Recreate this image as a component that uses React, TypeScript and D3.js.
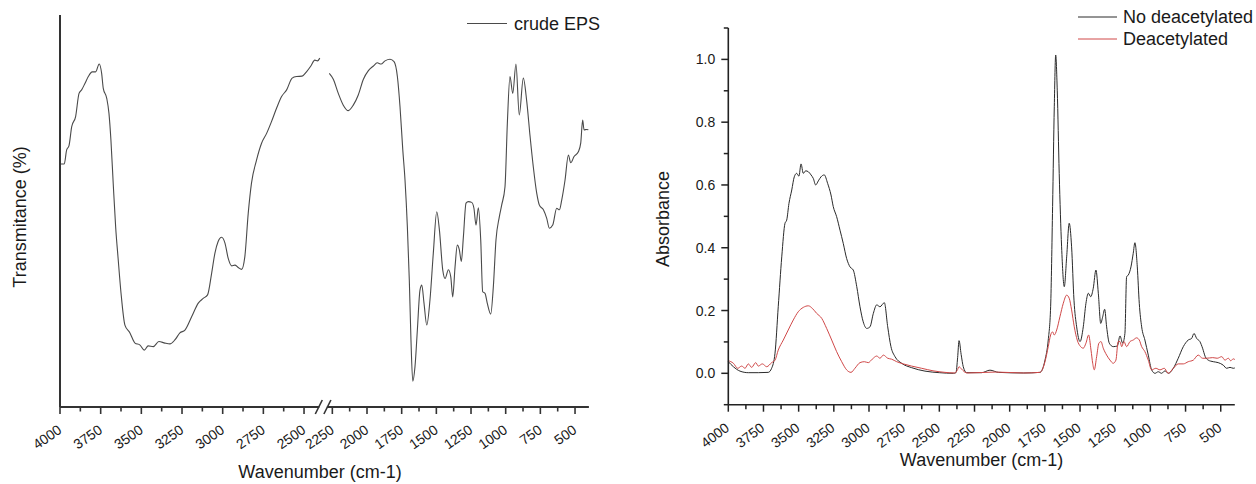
import React from 'react';
import * as d3 from 'd3';

const FONT = "'Liberation Sans', Arial, Helvetica, sans-serif";

// crude EPS transmittance, 4000–2400 cm-1 segment
const crudeHighWn = [3998, 3974, 3959, 3945, 3928, 3904, 3883, 3867, 3846, 3826, 3802, 3781, 3759, 3744, 3734, 3713, 3699, 3687, 3673, 3658, 3642, 3625, 3601, 3570, 3539, 3508, 3482, 3458, 3427, 3392, 3355, 3324, 3294, 3263, 3232, 3191, 3150, 3120, 3093, 3068, 3048, 3028, 3007, 2986, 2966, 2945, 2925, 2905, 2884, 2864, 2843, 2823, 2792, 2761, 2730, 2700, 2669, 2638, 2607, 2573, 2546, 2512, 2485, 2458, 2434, 2417, 2403];
const crudeHighT = [62.0, 62.0, 65.6, 66.6, 71.5, 74.1, 80.0, 80.9, 82.6, 84.3, 85.5, 85.5, 87.5, 85.1, 81.3, 78.8, 74.9, 68.1, 57.1, 46.0, 37.5, 29.1, 20.9, 18.9, 16.3, 15.8, 14.5, 15.6, 15.4, 16.7, 16.3, 16.1, 17.1, 18.9, 19.6, 23.0, 26.5, 27.7, 28.6, 34.1, 39.2, 42.2, 43.3, 41.8, 37.9, 36.0, 36.2, 35.6, 35.1, 38.3, 49.4, 57.1, 63.0, 67.3, 69.8, 72.8, 76.2, 79.2, 80.9, 83.9, 84.3, 84.4, 85.5, 87.0, 88.5, 88.3, 89.0];

// crude EPS transmittance, 2300–400 cm-1 segment
const crudeLowWn = [2272, 2243, 2207, 2171, 2135, 2099, 2063, 2026, 1990, 1954, 1926, 1899, 1870, 1834, 1805, 1781, 1762, 1742, 1726, 1709, 1695, 1683, 1670, 1654, 1637, 1618, 1605, 1589, 1569, 1546, 1522, 1497, 1478, 1454, 1437, 1413, 1396, 1382, 1365, 1349, 1334, 1320, 1305, 1286, 1269, 1245, 1229, 1214, 1197, 1180, 1166, 1149, 1133, 1108, 1089, 1070, 1046, 1029, 1005, 988, 969, 949, 926, 902, 873, 848, 824, 801, 776, 757, 728, 704, 685, 661, 632, 613, 596, 572, 548, 531, 507, 476, 459, 445, 435, 416, 404];
const crudeLowT = [85.1, 83.6, 80.0, 77.0, 75.6, 77.0, 79.6, 83.6, 85.8, 87.0, 87.8, 87.5, 88.3, 88.7, 88.1, 84.3, 76.6, 65.6, 57.9, 46.0, 32.4, 17.1, 6.6, 10.3, 19.6, 29.8, 31.1, 26.5, 20.9, 27.3, 39.2, 49.8, 45.2, 35.0, 32.8, 35.0, 33.2, 28.1, 35.8, 41.3, 40.1, 37.1, 43.4, 52.0, 52.4, 52.2, 50.7, 46.4, 50.8, 42.6, 29.4, 29.0, 26.5, 23.7, 30.7, 42.6, 48.5, 51.5, 56.2, 72.4, 84.3, 80.0, 87.5, 74.5, 83.9, 77.9, 69.0, 61.3, 54.5, 51.5, 50.3, 48.1, 45.6, 46.4, 50.7, 50.3, 52.8, 57.9, 64.3, 62.3, 63.9, 65.1, 67.3, 73.2, 70.7, 70.8, 70.7];

// absorbance, not deacetylated
const nativeWn = [4000, 3964, 3917, 3858, 3787, 3716, 3692, 3668, 3645, 3620, 3597, 3585, 3569, 3549, 3531, 3514, 3498, 3483, 3467, 3450, 3431, 3412, 3396, 3379, 3360, 3341, 3318, 3294, 3270, 3254, 3230, 3206, 3183, 3159, 3135, 3112, 3087, 3064, 3041, 3016, 2993, 2969, 2945, 2922, 2891, 2867, 2844, 2815, 2768, 2697, 2602, 2500, 2400, 2382, 2370, 2360, 2345, 2330, 2306, 2200, 2140, 2080, 1900, 1785, 1749, 1726, 1709, 1695, 1683, 1673, 1662, 1648, 1631, 1612, 1595, 1577, 1560, 1543, 1524, 1500, 1477, 1458, 1441, 1424, 1406, 1387, 1370, 1353, 1339, 1325, 1311, 1292, 1264, 1235, 1216, 1197, 1181, 1169, 1157, 1138, 1122, 1110, 1093, 1079, 1062, 1039, 1015, 991, 967, 944, 920, 896, 873, 837, 802, 766, 731, 707, 690, 671, 648, 629, 610, 589, 553, 518, 482, 458, 434, 411, 400];
const nativeAbs = [0.037, 0.021, 0.007, 0.002, 0.002, 0.003, 0.016, 0.064, 0.212, 0.371, 0.478, 0.488, 0.541, 0.584, 0.626, 0.637, 0.628, 0.667, 0.637, 0.645, 0.642, 0.632, 0.621, 0.600, 0.613, 0.626, 0.632, 0.605, 0.568, 0.531, 0.499, 0.456, 0.414, 0.366, 0.339, 0.329, 0.276, 0.212, 0.164, 0.143, 0.148, 0.191, 0.218, 0.212, 0.225, 0.148, 0.085, 0.053, 0.032, 0.018, 0.007, 0.002, 0.000, 0.002, 0.050, 0.104, 0.060, 0.021, 0.002, 0.002, 0.010, 0.003, 0.001, 0.003, 0.042, 0.106, 0.212, 0.531, 0.849, 1.014, 0.902, 0.637, 0.403, 0.276, 0.371, 0.478, 0.403, 0.233, 0.148, 0.101, 0.148, 0.223, 0.255, 0.244, 0.271, 0.329, 0.255, 0.159, 0.180, 0.204, 0.148, 0.096, 0.085, 0.087, 0.119, 0.096, 0.127, 0.308, 0.313, 0.339, 0.382, 0.416, 0.339, 0.223, 0.148, 0.106, 0.058, 0.011, 0.000, 0.005, 0.000, 0.008, 0.000, 0.016, 0.048, 0.085, 0.106, 0.111, 0.127, 0.111, 0.101, 0.080, 0.053, 0.042, 0.037, 0.034, 0.026, 0.016, 0.019, 0.016, 0.017];

// absorbance, deacetylated
const deacWn = [4000, 3964, 3933, 3905, 3881, 3858, 3834, 3805, 3787, 3758, 3727, 3692, 3668, 3645, 3609, 3574, 3538, 3503, 3467, 3431, 3403, 3372, 3336, 3301, 3265, 3230, 3194, 3159, 3128, 3100, 3064, 3033, 3005, 2977, 2945, 2922, 2898, 2867, 2839, 2803, 2756, 2697, 2626, 2545, 2460, 2390, 2370, 2360, 2345, 2320, 2300, 2100, 1900, 1785, 1749, 1726, 1709, 1695, 1683, 1666, 1643, 1619, 1595, 1577, 1560, 1541, 1520, 1496, 1477, 1458, 1439, 1422, 1410, 1399, 1382, 1366, 1351, 1335, 1311, 1287, 1264, 1245, 1229, 1216, 1204, 1188, 1169, 1145, 1122, 1098, 1079, 1062, 1039, 1015, 991, 961, 932, 901, 873, 837, 802, 766, 731, 695, 660, 629, 601, 557, 525, 493, 470, 446, 429, 411, 400];
const deacAbs = [0.040, 0.032, 0.016, 0.023, 0.016, 0.030, 0.019, 0.034, 0.023, 0.030, 0.021, 0.034, 0.042, 0.074, 0.106, 0.138, 0.170, 0.196, 0.210, 0.215, 0.207, 0.191, 0.175, 0.143, 0.106, 0.069, 0.037, 0.011, 0.003, 0.016, 0.034, 0.037, 0.034, 0.045, 0.055, 0.048, 0.058, 0.048, 0.045, 0.037, 0.030, 0.023, 0.016, 0.008, 0.003, 0.001, 0.012, 0.021, 0.015, 0.004, 0.001, 0.004, 0.001, 0.003, 0.037, 0.085, 0.122, 0.132, 0.122, 0.138, 0.180, 0.223, 0.249, 0.239, 0.202, 0.148, 0.106, 0.085, 0.080, 0.096, 0.122, 0.074, 0.032, 0.011, 0.053, 0.096, 0.101, 0.080, 0.058, 0.042, 0.032, 0.042, 0.101, 0.101, 0.085, 0.101, 0.085, 0.101, 0.106, 0.113, 0.106, 0.085, 0.069, 0.042, 0.011, 0.016, 0.011, 0.016, 0.000, 0.016, 0.030, 0.030, 0.037, 0.042, 0.058, 0.048, 0.048, 0.050, 0.048, 0.053, 0.042, 0.048, 0.040, 0.046, 0.044];

// axis ticks
const leftTicksHigh = [4000, 3750, 3500, 3250, 3000, 2750, 2500];
const leftTicksLow = [2250, 2000, 1750, 1500, 1250, 1000, 750, 500];
const rightTicksX = [4000, 3750, 3500, 3250, 3000, 2750, 2500, 2250, 2000, 1750, 1500, 1250, 1000, 750, 500];
const rightTicksY = [0, 0.2, 0.4, 0.6, 0.8, 1.0];

const zip = (xs: number[], ys: number[]) => xs.map((x, i) => [x, ys[i]] as [number, number]);

const TEXT = '#1a1a1a';

function TransmittanceChart() {
  const xHigh = d3.scaleLinear().domain([4000, 2400]).range([60, 320.3]);
  const xLow = d3.scaleLinear().domain([2300, 400]).range([325.4, 588.9]);
  const y = d3.scaleLinear().domain([0, 100]).range([407, 15]);
  const axisY = y(0);
  const x0 = xHigh(4000);

  const lineHigh = d3.line<[number, number]>().x(d => xHigh(d[0])).y(d => y(d[1])).curve(d3.curveMonotoneX);
  const lineLow = d3.line<[number, number]>().x(d => xLow(d[0])).y(d => y(d[1])).curve(d3.curveMonotoneX);

  const minorHigh = leftTicksHigh.map(t => t - 125).filter(t => t > 2400);
  const minorLow = leftTicksLow.map(t => t - 125).filter(t => t > 400);

  const breakA = xHigh(2400) - 1;
  const breakB = xLow(2300) + 1.5;

  const tickLabel = (px: number, t: number, key: string) => (
    <text key={key} transform={`translate(${px + 2.7},${axisY + 25}) rotate(-35)`} textAnchor="end" fontSize={14} fill={TEXT}>{t}</text>
  );

  return (
    <g>
      <path d={lineHigh(zip(crudeHighWn, crudeHighT)) || ''} fill="none" stroke="#4a4a4a" strokeWidth={1.1} />
      <path d={lineLow(zip(crudeLowWn, crudeLowT)) || ''} fill="none" stroke="#4a4a4a" strokeWidth={1.1} />

      {/* axes with a break between the two wavenumber segments */}
      <line x1={x0} x2={x0} y1={15} y2={axisY} stroke="#333" strokeWidth={2} />
      <line x1={x0} x2={breakA} y1={axisY} y2={axisY} stroke="#333" strokeWidth={2} />
      <line x1={breakB} x2={xLow(400)} y1={axisY} y2={axisY} stroke="#333" strokeWidth={2} />
      <line x1={breakA - 4} y1={axisY + 7} x2={breakA + 3} y2={axisY - 7} stroke="#333" strokeWidth={1.6} />
      <line x1={breakB - 3} y1={axisY + 7} x2={breakB + 4} y2={axisY - 7} stroke="#333" strokeWidth={1.6} />

      {leftTicksHigh.map(t => (
        <line key={'mh' + t} x1={xHigh(t)} x2={xHigh(t)} y1={axisY} y2={axisY + 7} stroke="#333" strokeWidth={1.6} />
      ))}
      {minorHigh.map(t => (
        <line key={'nh' + t} x1={xHigh(t)} x2={xHigh(t)} y1={axisY} y2={axisY + 4.5} stroke="#333" strokeWidth={1.6} />
      ))}
      {leftTicksLow.map(t => (
        <line key={'ml' + t} x1={xLow(t)} x2={xLow(t)} y1={axisY} y2={axisY + 7} stroke="#333" strokeWidth={1.6} />
      ))}
      {minorLow.map(t => (
        <line key={'nl' + t} x1={xLow(t)} x2={xLow(t)} y1={axisY} y2={axisY + 4.5} stroke="#333" strokeWidth={1.6} />
      ))}

      {leftTicksHigh.map(t => tickLabel(xHigh(t), t, 'lh' + t))}
      {leftTicksLow.map(t => tickLabel(xLow(t), t, 'll' + t))}

      <text x={320} y={478} textAnchor="middle" fontSize={18} fill={TEXT}>Wavenumber (cm-1)</text>
      <text transform="translate(26,217) rotate(-90)" textAnchor="middle" fontSize={18} fill={TEXT}>Transmitance (%)</text>

      {/* legend */}
      <line x1={467} x2={507} y1={23.5} y2={23.5} stroke="#4a4a4a" strokeWidth={1.1} />
      <text x={514} y={30} fontSize={18} fill={TEXT}>crude EPS</text>
    </g>
  );
}

function AbsorbanceChart() {
  const x = d3.scaleLinear().domain([4000, 400]).range([728.3, 1234.8]);
  const y = d3.scaleLinear().domain([-0.1, 1.1]).range([404.7, 28]);
  const axisY = y(-0.1);
  const x0 = x(4000);

  const line = d3.line<[number, number]>().x(d => x(d[0])).y(d => y(d[1])).curve(d3.curveMonotoneX);

  const minorX = rightTicksX.map(t => t - 125).filter(t => t > 400);
  const minorY = [-0.1, 0.1, 0.3, 0.5, 0.7, 0.9, 1.1];

  return (
    <g>
      <path d={line(zip(nativeWn, nativeAbs)) || ''} fill="none" stroke="#2a2a2a" strokeWidth={1} />
      <path d={line(zip(deacWn, deacAbs)) || ''} fill="none" stroke="#d04848" strokeWidth={1} />

      <line x1={x0} x2={x0} y1={y(1.1)} y2={axisY} stroke="#222" strokeWidth={1.6} />
      <line x1={x0} x2={x(400)} y1={axisY} y2={axisY} stroke="#222" strokeWidth={1.6} />

      {rightTicksX.map(t => (
        <line key={'mx' + t} x1={x(t)} x2={x(t)} y1={axisY} y2={axisY + 7} stroke="#222" strokeWidth={1.5} />
      ))}
      {minorX.map(t => (
        <line key={'nx' + t} x1={x(t)} x2={x(t)} y1={axisY} y2={axisY + 4.5} stroke="#222" strokeWidth={1.5} />
      ))}
      {rightTicksY.map(t => (
        <line key={'my' + t} x1={x0 - 7} x2={x0} y1={y(t)} y2={y(t)} stroke="#222" strokeWidth={1.5} />
      ))}
      {minorY.map(t => (
        <line key={'ny' + t} x1={x0 - 4.5} x2={x0} y1={y(t)} y2={y(t)} stroke="#222" strokeWidth={1.5} />
      ))}

      {rightTicksX.map(t => (
        <text key={'lx' + t} transform={`translate(${x(t) + 2},${axisY + 25}) rotate(-37)`} textAnchor="end" fontSize={14} fill={TEXT}>{t}</text>
      ))}
      {rightTicksY.map(t => (
        <text key={'ly' + t} x={x0 - 13} y={y(t) + 5} textAnchor="end" fontSize={14} fill={TEXT}>{t.toFixed(1)}</text>
      ))}

      <text x={981.5} y={466} textAnchor="middle" fontSize={18} fill={TEXT}>Wavenumber (cm-1)</text>
      <text transform="translate(669,219) rotate(-90)" textAnchor="middle" fontSize={18} fill={TEXT}>Absorbance</text>

      <line x1={1078} x2={1117} y1={17} y2={17} stroke="#2a2a2a" strokeWidth={1} />
      <text x={1123} y={23} fontSize={18} fill={TEXT}>No deacetylated</text>
      <line x1={1078} x2={1117} y1={39} y2={39} stroke="#d04848" strokeWidth={1} />
      <text x={1123} y={45} fontSize={18} fill={TEXT}>Deacetylated</text>
    </g>
  );
}

export default function App() {
  return (
    <svg
      width={1256}
      height={484}
      viewBox="0 0 1256 484"
      style={{ position: 'absolute', left: 0, top: 0, background: '#fff', fontFamily: FONT }}
    >
      <rect width={1256} height={484} fill="#fff" />
      <TransmittanceChart />
      <AbsorbanceChart />
    </svg>
  );
}
